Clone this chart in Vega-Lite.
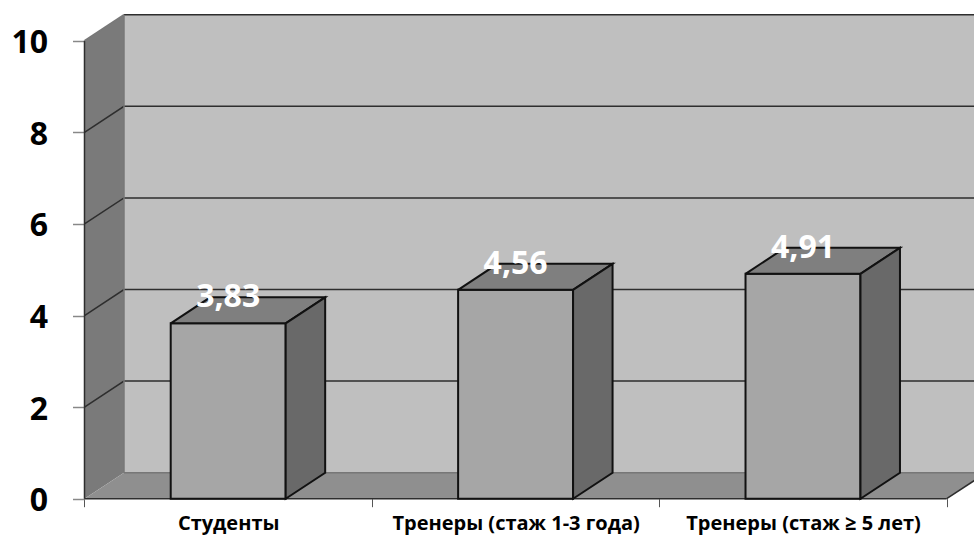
{
"$schema":"https://vega.github.io/schema/vega-lite/v6.json",
"width":974,"height":536,"padding":0,"autosize":{"type":"none"},"background":"white",
"config":{"view":{"stroke":null},"text":{"font":"Open Sans"}},
"datasets":{
"bars":[
{"category":"Студенты","value":3.83,"label":"3,83","xStart":0.3,"xEnd":0.7,"xMid":0.5},
{"category":"Тренеры (стаж 1-3 года)","value":4.56,"label":"4,56","xStart":1.3,"xEnd":1.7,"xMid":1.5},
{"category":"Тренеры (стаж ≥ 5 лет)","value":4.91,"label":"4,91","xStart":2.3,"xEnd":2.7,"xMid":2.5}],
"back":[
{"face":"wall","i":0,"x":0.1374,"y":0.5677},{"face":"wall","i":1,"x":3.1,"y":0.5677},{"face":"wall","i":2,"x":3.1,"y":10.5677},{"face":"wall","i":3,"x":0.1374,"y":10.5677},{"face":"wall","i":4,"x":0.1374,"y":0.5677},
{"face":"left","i":0,"x":0,"y":0},{"face":"left","i":1,"x":0.1374,"y":0.5677},{"face":"left","i":2,"x":0.1374,"y":10.5677},{"face":"left","i":3,"x":0,"y":10},{"face":"left","i":4,"x":0,"y":0},
{"face":"floor","i":0,"x":0,"y":0},{"face":"floor","i":1,"x":3,"y":0},{"face":"floor","i":2,"x":3.1374,"y":0.5677},{"face":"floor","i":3,"x":0.1374,"y":0.5677},{"face":"floor","i":4,"x":0,"y":0}],
"edges":[
{"edge":"g2","kind":"grid","i":0,"x":0,"y":2},{"edge":"g2","kind":"grid","i":1,"x":0.1374,"y":2.5677},{"edge":"g2","kind":"grid","i":2,"x":3.1,"y":2.5677},
{"edge":"g4","kind":"grid","i":0,"x":0,"y":4},{"edge":"g4","kind":"grid","i":1,"x":0.1374,"y":4.5677},{"edge":"g4","kind":"grid","i":2,"x":3.1,"y":4.5677},
{"edge":"g6","kind":"grid","i":0,"x":0,"y":6},{"edge":"g6","kind":"grid","i":1,"x":0.1374,"y":6.5677},{"edge":"g6","kind":"grid","i":2,"x":3.1,"y":6.5677},
{"edge":"g8","kind":"grid","i":0,"x":0,"y":8},{"edge":"g8","kind":"grid","i":1,"x":0.1374,"y":8.5677},{"edge":"g8","kind":"grid","i":2,"x":3.1,"y":8.5677},
{"edge":"g10","kind":"grid","i":0,"x":0.1374,"y":10.5677},{"edge":"g10","kind":"grid","i":1,"x":3.1,"y":10.5677},
{"edge":"front","kind":"grid","i":0,"x":0,"y":0},{"edge":"front","kind":"grid","i":1,"x":0,"y":10},
{"edge":"base","kind":"grid","i":0,"x":0,"y":0},{"edge":"base","kind":"grid","i":1,"x":3,"y":0},
{"edge":"corner","kind":"grid","i":0,"x":3,"y":0},{"edge":"corner","kind":"grid","i":1,"x":3.1374,"y":0.5677},
{"edge":"topleft","kind":"soft","i":0,"x":0,"y":10},{"edge":"topleft","kind":"soft","i":1,"x":0.1374,"y":10.5677},
{"edge":"floorback","kind":"soft","i":0,"x":0.1374,"y":0.5677},{"edge":"floorback","kind":"soft","i":1,"x":3.1,"y":0.5677},
{"edge":"wallleft","kind":"soft","i":0,"x":0.1374,"y":0.5677},{"edge":"wallleft","kind":"soft","i":1,"x":0.1374,"y":10.5677}],
"faces":[
{"face":"top1","kind":"top","i":0,"x":0.3,"y":3.83},{"face":"top1","kind":"top","i":1,"x":0.7,"y":3.83},{"face":"top1","kind":"top","i":2,"x":0.8374,"y":4.3977},{"face":"top1","kind":"top","i":3,"x":0.4374,"y":4.3977},{"face":"top1","kind":"top","i":4,"x":0.3,"y":3.83},
{"face":"side1","kind":"side","i":0,"x":0.7,"y":3.83},{"face":"side1","kind":"side","i":1,"x":0.8374,"y":4.3977},{"face":"side1","kind":"side","i":2,"x":0.8374,"y":0.5677},{"face":"side1","kind":"side","i":3,"x":0.7,"y":0},{"face":"side1","kind":"side","i":4,"x":0.7,"y":3.83},
{"face":"top2","kind":"top","i":0,"x":1.3,"y":4.56},{"face":"top2","kind":"top","i":1,"x":1.7,"y":4.56},{"face":"top2","kind":"top","i":2,"x":1.8374,"y":5.1277},{"face":"top2","kind":"top","i":3,"x":1.4374,"y":5.1277},{"face":"top2","kind":"top","i":4,"x":1.3,"y":4.56},
{"face":"side2","kind":"side","i":0,"x":1.7,"y":4.56},{"face":"side2","kind":"side","i":1,"x":1.8374,"y":5.1277},{"face":"side2","kind":"side","i":2,"x":1.8374,"y":0.5677},{"face":"side2","kind":"side","i":3,"x":1.7,"y":0},{"face":"side2","kind":"side","i":4,"x":1.7,"y":4.56},
{"face":"top3","kind":"top","i":0,"x":2.3,"y":4.91},{"face":"top3","kind":"top","i":1,"x":2.7,"y":4.91},{"face":"top3","kind":"top","i":2,"x":2.8374,"y":5.4777},{"face":"top3","kind":"top","i":3,"x":2.4374,"y":5.4777},{"face":"top3","kind":"top","i":4,"x":2.3,"y":4.91},
{"face":"side3","kind":"side","i":0,"x":2.7,"y":4.91},{"face":"side3","kind":"side","i":1,"x":2.8374,"y":5.4777},{"face":"side3","kind":"side","i":2,"x":2.8374,"y":0.5677},{"face":"side3","kind":"side","i":3,"x":2.7,"y":0},{"face":"side3","kind":"side","i":4,"x":2.7,"y":4.91}]
},
"encoding":{
"x":{"field":"x","type":"quantitative","scale":{"domain":[-0.294,3.095],"nice":false,"zero":false},
"axis":{"title":null,"grid":false,"domain":false,"offset":-37.3,"values":[0,0.5,1,1.5,2,2.5,3],"tickSize":8,"tickColor":"#555","tickWidth":1,
"tickOpacity":{"condition":{"test":"datum.value % 1 == 0","value":1},"value":0},
"labelExpr":"datum.value==0.5?'Студенты':datum.value==1.5?'Тренеры (стаж 1-3 года)':datum.value==2.5?'Тренеры (стаж ≥ 5 лет)':''",
"labelFont":"Open Sans","labelFontWeight":"bold","labelFontSize":20,"labelColor":"#000","labelPadding":7,"labelLimit":400,"labelAngle":0,"labelOverlap":false,"labelFlush":false}},
"y":{"field":"y","type":"quantitative","scale":{"domain":[-0.814,10.889],"nice":false,"zero":false},
"axis":{"title":null,"grid":false,"domain":false,"offset":-84.5,"values":[0,2,4,6,8,10],"tickSize":12,"tickColor":"#888","tickWidth":1.5,
"labelFont":"Open Sans","labelFontWeight":"bold","labelFontSize":32,"labelColor":"#000","labelPadding":25,"labelOffset":2,"labelOverlap":false,"labelFlush":false}}
},
"resolve":{"scale":{"color":"independent"}},
"layer":[
{"data":{"name":"back"},"mark":{"type":"line","filled":true,"clip":true,"strokeWidth":0},
"encoding":{"color":{"field":"face","type":"nominal","legend":null,"scale":{"domain":["wall","left","floor"],"range":["#bfbfbf","#7a7a7a","#8f8f8f"]}},"order":{"field":"i"}}},
{"data":{"name":"edges"},"mark":{"type":"line","clip":true,"strokeWidth":1.5},
"encoding":{"color":{"field":"kind","type":"nominal","legend":null,"scale":{"domain":["grid","soft"],"range":["#2e2e2e","#777777"]}},"detail":{"field":"edge"},"order":{"field":"i"}}},
{"data":{"name":"bars"},"mark":{"type":"rect","fill":"#a6a6a6","stroke":"#111","strokeWidth":2},
"encoding":{"x":{"field":"xStart","type":"quantitative","scale":{"domain":[-0.294,3.095],"nice":false,"zero":false},"axis":{"title":null}},"x2":{"field":"xEnd"},"y":{"field":"value","type":"quantitative","scale":{"domain":[-0.814,10.889],"nice":false,"zero":false},"axis":{"title":null}},"y2":{"datum":0}}},
{"data":{"name":"faces"},"mark":{"type":"line","filled":true,"stroke":"#111","strokeWidth":2},
"encoding":{"color":{"field":"kind","type":"nominal","legend":null,"scale":{"domain":["top","side"],"range":["#7f7f7f","#696969"]}},"detail":{"field":"face"},"order":{"field":"i"}}},
{"data":{"name":"bars"},"mark":{"type":"text","font":"Open Sans","fontWeight":"bold","fontSize":32,"color":"white","align":"center","baseline":"alphabetic","dy":-16},
"encoding":{"x":{"field":"xMid","type":"quantitative","scale":{"domain":[-0.294,3.095],"nice":false,"zero":false},"axis":{"title":null}},"y":{"field":"value","type":"quantitative","scale":{"domain":[-0.814,10.889],"nice":false,"zero":false},"axis":{"title":null}},"text":{"field":"label"}}}
]
}
